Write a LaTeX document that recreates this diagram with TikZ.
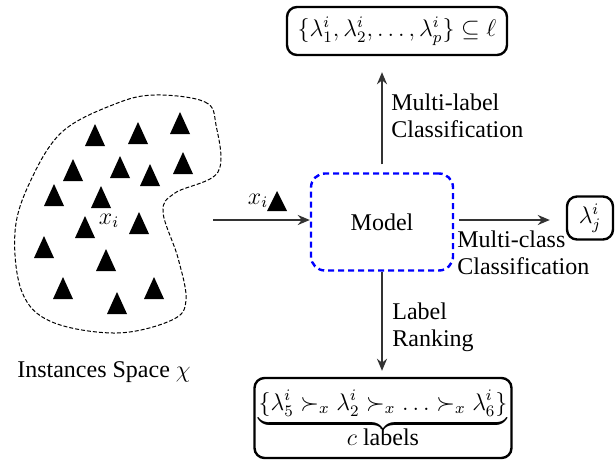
\documentclass[tikz,border=0pt]{standalone}
\usepackage{amsmath,amssymb}
\usepackage{fontspec}
\setmainfont{Liberation Serif}
\usetikzlibrary{arrows.meta,positioning}
\begin{document}
\begin{tikzpicture}[x=0.5pt, y=-0.5pt, font=\fontsize{12}{13.5}\selectfont,
	outbox/.style={draw=black, line width=1.2pt, rounded corners=5pt, inner sep=0pt},
	modelbox/.style={draw=blue, line width=1.2pt, dash pattern=on 3pt off 2pt, rounded corners=7pt,
		minimum width=71pt, minimum height=48.5pt},
	flow/.style={draw=black!80, line width=1pt, -{Stealth[length=6pt,width=5pt]}},
	tri/.style={fill=black}]
\useasboundingbox (0,0) rectangle (615,460);
%instance space
\draw[dashed, line width=0.5pt, dash pattern=on 2pt off 1pt] plot[smooth cycle, tension=0.6] coordinates{
	(155,95) (205,102) (216,125) (218,172) (175,193) (163,212) (178,258) (186,300)
	(172,320) (117,333) (52,322) (22,292) (15,232) (30,182) (62,132) (115,104)};
\foreach \x/\y in {
	95/135, 138/133, 180/123,
	73/170, 120/167, 150/175, 183/163,
	54/195, 101/197,
	85/227, 139/223,
	44/247, 106/260,
	63/288, 154/288, 117/303}
\fill[tri] ({\x-10},{\y+11}) -- ({\x+10},{\y+11}) -- (\x,{\y-11}) -- cycle;
\node (xin) at (109,221) {$x_i$};
\node (space) at (104,372) {Instances Space $\chi$};
%model and outputs
\node[modelbox] (model) at (382,222) {Model};
\node[outbox, minimum width=110pt, minimum height=24pt] (multilabel) at (397,31)
	{$\{\lambda_1^i,\lambda_2^i,\ldots,\lambda_p^i\}\subseteq\ell$};
\node[outbox, minimum width=23pt, minimum height=21.5pt] (multiclass) at (590,218) {$\lambda_j^i$};
\node[outbox, minimum width=128.5pt, minimum height=40pt, align=center, inner sep=1pt] (ranking) at (383,418)
	{$\underbrace{\{\lambda_5^i\succ_x\lambda_2^i\succ_x\ldots\succ_x\lambda_6^i\}}$\\[-2pt] $c$ labels};
%input
\coordinate (blobend) at (213,220);
\draw[flow] (blobend) -- (model.west |- blobend);
\node (xsel) at (258,201) {$x_i$};
\fill[tri] (267,211) -- (287,211) -- (277,191) -- cycle;
%arrows
\draw[flow, shorten <=4pt, shorten >=8pt] (model.north) -- (model.north |- multilabel.south);
\draw[flow, shorten <=2.5pt, shorten >=8pt] (model.east |- blobend) -- (multiclass.west |- blobend);
\draw[flow, shorten >=3pt] (model.south) -- (model.south |- ranking.north);
%labels
\node[anchor=west, align=left, inner sep=0pt] (mllabel) at (391,116) {Multi-label\\Classification};
\node[anchor=north west, align=left, inner sep=0pt] (mclabel) at (457,230) {Multi-class\\Classification};
\node[anchor=west, align=left, inner sep=0pt] (lrlabel) at (392,327) {Label\\Ranking};
\end{tikzpicture}
\end{document}
